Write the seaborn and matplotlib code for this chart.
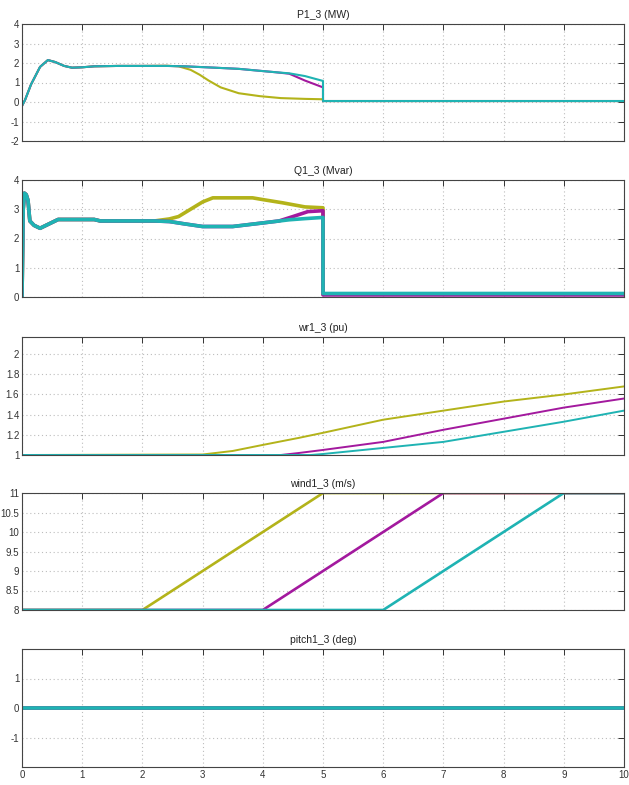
import numpy as np
import pandas as pd
import matplotlib
matplotlib.use("Agg")
import matplotlib.pyplot as plt
from matplotlib.ticker import FormatStrFormatter
import seaborn as sns

sns.set_style("white")
plt.rcParams['font.family'] = ['Liberation Sans', 'DejaVu Sans']

# case colours (wind ramp starting at t=2, 4, 6 s)
cases = ["ramp 2s", "ramp 4s", "ramp 6s"]
colors = ["#b3b31a", "#a3199e", "#1fb3b3"]

# P1_3 (MW)
p1_t_y = [0, 0.05, 0.15, 0.3, 0.43, 0.55, 0.7, 0.83, 1.0, 1.2, 1.6, 2.0, 2.4, 2.6, 2.8, 2.95, 3.1, 3.3, 3.6, 3.95, 4.3, 4.7, 5.0, 5.0, 10]
p1_v_y = [-0.2, 0.1, 0.9, 1.8, 2.15, 2.05, 1.85, 1.76, 1.78, 1.83, 1.85, 1.85, 1.86, 1.83, 1.65, 1.4, 1.1, 0.75, 0.45, 0.3, 0.2, 0.16, 0.14, 0.05, 0.05]
p1_t_m = [0, 0.05, 0.15, 0.3, 0.43, 0.55, 0.7, 0.83, 1.0, 1.2, 1.6, 2.0, 2.4, 2.7, 3.2, 3.6, 3.95, 4.2, 4.44, 4.7, 5.0, 5.0, 10]
p1_v_m = [-0.2, 0.1, 0.9, 1.8, 2.15, 2.05, 1.85, 1.76, 1.78, 1.83, 1.85, 1.85, 1.85, 1.83, 1.76, 1.7, 1.6, 1.53, 1.45, 1.1, 0.75, 0.05, 0.05]
p1_t_c = [0, 0.05, 0.15, 0.3, 0.43, 0.55, 0.7, 0.83, 1.0, 1.2, 1.6, 2.0, 2.4, 2.7, 3.2, 3.6, 3.95, 4.2, 4.44, 4.7, 5.0, 5.0, 10]
p1_v_c = [-0.2, 0.1, 0.9, 1.8, 2.15, 2.05, 1.85, 1.76, 1.78, 1.83, 1.85, 1.85, 1.85, 1.83, 1.76, 1.7, 1.6, 1.53, 1.47, 1.33, 1.08, 0.05, 0.05]

# Q1_3 (Mvar)
q1_t_y = [0, 0.02, 0.04, 0.07, 0.1, 0.13, 0.2, 0.3, 0.45, 0.6, 1.2, 1.3, 2.2, 2.45, 2.6, 2.8, 3.0, 3.17, 3.83, 4.0, 4.33, 4.7, 5.0, 5.0, 10]
q1_v_y = [0, 3.0, 3.55, 3.5, 3.3, 2.6, 2.45, 2.35, 2.5, 2.65, 2.65, 2.6, 2.6, 2.67, 2.75, 3.0, 3.25, 3.39, 3.39, 3.33, 3.22, 3.08, 3.05, 0.1, 0.1]
q1_t_m = [0, 0.02, 0.04, 0.07, 0.1, 0.13, 0.2, 0.3, 0.45, 0.6, 1.2, 1.3, 2.2, 2.45, 2.7, 3.0, 3.5, 3.95, 4.27, 4.5, 4.75, 5.0, 5.0, 10]
q1_v_m = [0, 3.0, 3.55, 3.5, 3.3, 2.6, 2.45, 2.35, 2.5, 2.65, 2.65, 2.6, 2.6, 2.58, 2.5, 2.41, 2.41, 2.52, 2.6, 2.75, 2.92, 2.95, 0.07, 0.07]
q1_t_c = [0, 0.02, 0.04, 0.07, 0.1, 0.13, 0.2, 0.3, 0.45, 0.6, 1.2, 1.3, 2.2, 2.45, 2.7, 3.0, 3.5, 3.95, 4.44, 4.7, 5.0, 5.0, 10]
q1_v_c = [0, 3.0, 3.55, 3.5, 3.3, 2.6, 2.45, 2.35, 2.5, 2.65, 2.65, 2.6, 2.6, 2.58, 2.5, 2.41, 2.41, 2.52, 2.64, 2.68, 2.72, 0.12, 0.12]

# wr1_3 (pu)
wr_t_y = [0, 3.0, 3.5, 4.0, 4.6, 5.0, 6.0, 7.0, 8.0, 9.0, 10.0]
wr_v_y = [1.0, 1.005, 1.04, 1.1, 1.17, 1.22, 1.35, 1.44, 1.53, 1.6, 1.68]
wr_t_m = [0, 4.3, 4.6, 5.0, 6.0, 7.0, 8.0, 9.0, 10.0]
wr_v_m = [1.0, 1.0, 1.02, 1.05, 1.13, 1.25, 1.36, 1.47, 1.56]
wr_t_c = [0, 4.8, 5.0, 6.0, 7.0, 8.0, 9.0, 10.0]
wr_v_c = [1.0, 1.0, 1.01, 1.07, 1.13, 1.23, 1.33, 1.44]

# wind1_3 (m/s)
wind_t_y = [0, 2, 5, 10]
wind_t_m = [0, 4, 7, 10]
wind_t_c = [0, 6, 9, 10]
wind_v = [8, 8, 11, 11]

# pitch1_3 (deg)
pitch_t = [0, 10]
pitch_v = [0, 0]

panels = [
    ("P1_3 (MW)", [(p1_t_y, p1_v_y), (p1_t_m, p1_v_m), (p1_t_c, p1_v_c)],
     (-2, 4), [-2, -1, 0, 1, 2, 3, 4], "%g", 1.5),
    ("Q1_3 (Mvar)", [(q1_t_y, q1_v_y), (q1_t_m, q1_v_m), (q1_t_c, q1_v_c)],
     (0, 4), [0, 1, 2, 3, 4], "%g", 2.6),
    ("wr1_3 (pu)", [(wr_t_y, wr_v_y), (wr_t_m, wr_v_m), (wr_t_c, wr_v_c)],
     (1, 2.17), [1, 1.2, 1.4, 1.6, 1.8, 2], "%g", 1.4),
    ("wind1_3 (m/s)", [(wind_t_y, wind_v), (wind_t_m, wind_v), (wind_t_c, wind_v)],
     (8, 11), [8, 8.5, 9, 9.5, 10, 10.5, 11], "%g", 1.9),
    ("pitch1_3 (deg)", [(pitch_t, pitch_v), (pitch_t, pitch_v), (pitch_t, pitch_v)],
     (-2, 2), [-1, 0, 1], "%g", 2.6),
]

# axes boxes in pixels (top, bottom)
boxes = [(24, 141), (180, 297), (337, 455), (493, 610), (649, 767)]
W, H = 629, 785
left, right = 22, 624

fig = plt.figure(figsize=(W / 100, H / 100), dpi=100)

for i, (title, series, ylim, yticks, fmt, lw) in enumerate(panels):
    top, bot = boxes[i]
    ax = fig.add_axes([left / W, 1 - bot / H, (right - left) / W, (bot - top) / H])
    for (t, v), col in zip(series, colors):
        sns.lineplot(x=t, y=v, ax=ax, color=col, linewidth=lw,
                     estimator=None, sort=False)
    ax.set_xlim(0, 10)
    ax.set_ylim(*ylim)
    ax.set_xticks(range(11))
    ax.set_yticks(yticks)
    ax.yaxis.set_major_formatter(FormatStrFormatter(fmt))
    ax.grid(True, linestyle=(0, (1, 2.5)), color="#bdbdbd", linewidth=0.8)
    ax.tick_params(direction="in", length=4, width=0.7, top=True, right=True,
                   labelsize=7, colors="#333333", pad=2)
    for s in ax.spines.values():
        s.set_color("#444444")
        s.set_linewidth(0.8)
    ax.set_title(title, fontsize=7.5, pad=4, color="#222222")
    ax.set_xlabel("")
    ax.set_ylabel("")
    if i < len(panels) - 1:
        ax.set_xticklabels([])

fig.savefig("out.png", dpi=100, facecolor="white")
